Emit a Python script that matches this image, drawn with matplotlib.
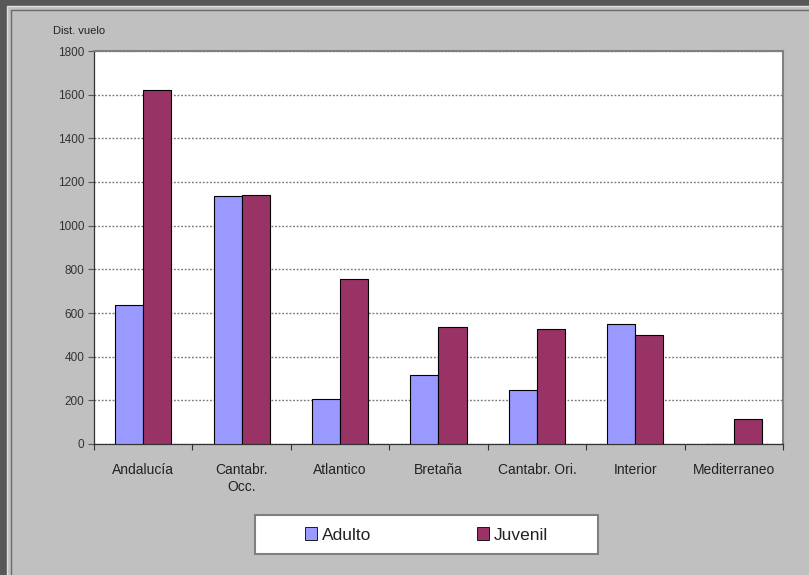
import numpy as np
import matplotlib.pyplot as plt
from matplotlib.patches import Rectangle, Patch

regiones = ['Andalucía', 'Cantabr.\nOcc.', 'Atlantico', 'Bretaña', 'Cantabr. Ori.', 'Interior', 'Mediterraneo']
adulto = [637, 1136, 206, 316, 247, 550, 0]
juvenil = [1621, 1140, 756, 536, 527, 499, 115]

plt.rcParams['font.family'] = ['Liberation Sans', 'DejaVu Sans']

W, H = 809, 575
fig = plt.figure(figsize=(W / 100, H / 100), dpi=100, facecolor='#585858')

# fondo gris del grafico
fig.patches.append(Rectangle((7 / W, 0), 1, 1 - 6 / H, transform=fig.transFigure,
                             facecolor='#c0c0c0', edgecolor='#e0e0e0', lw=1, zorder=-10))
fig.patches.append(Rectangle((11 / W, -0.01), 1, 1 - 10 / H + 0.01, transform=fig.transFigure,
                             facecolor='#c0c0c0', edgecolor='#6a6a6a', lw=1, zorder=-9))
# caja de la leyenda
fig.patches.append(Rectangle((255 / W, 1 - 554 / H), (598 - 255) / W, 39 / H, transform=fig.transFigure,
                             facecolor='white', edgecolor='#808080', lw=1.5, zorder=-5))

ax = fig.add_axes([94 / W, 1 - 444 / H, (783 - 94) / W, (444 - 51) / H])
ax.set_facecolor('white')

x = np.arange(len(regiones))
w = 0.2857
ax.bar(x - w / 2, adulto, w, color='#9999ff', edgecolor='black', lw=0.8, zorder=3, label='Adulto')
ax.bar(x + w / 2, juvenil, w, color='#993366', edgecolor='black', lw=0.8, zorder=3, label='Juvenil')

ax.set_xlim(-0.5, len(regiones) - 0.5)
ax.set_ylim(0, 1800)
ax.set_yticks(np.arange(0, 1801, 200))
ax.tick_params(axis='y', labelsize=8.5, length=4, width=0.8, color='#555555', labelcolor='#333333', pad=3)
ax.set_xticks(x)
ax.set_xticklabels(regiones, fontsize=10, color='#222222')
ax.tick_params(axis='x', length=0, pad=14)
ax.set_xticks(np.arange(-0.5, len(regiones)), minor=True)
ax.tick_params(axis='x', which='minor', length=4, width=0.8, color='#333333')
ax.grid(axis='y', linestyle=(0, (1.3, 1.3)), color='#777777', lw=1.0, zorder=1)

for s in ['top', 'right']:
    ax.spines[s].set_color('#808080')
    ax.spines[s].set_linewidth(1.5)
for s in ['left', 'bottom']:
    ax.spines[s].set_color('#333333')
    ax.spines[s].set_linewidth(0.9)

fig.text(53 / W, 1 - 31 / H, 'Dist. vuelo', fontsize=8, color='#222222', va='center')

handles = [Patch(facecolor='#9999ff', edgecolor='black', lw=0.6),
           Patch(facecolor='#993366', edgecolor='black', lw=0.6)]
leg = fig.legend(handles, ['Adulto', 'Juvenil'], loc='center',
                 bbox_to_anchor=(426.5 / W, 1 - 535 / H), ncol=2, fontsize=12.5,
                 frameon=False, handlelength=0.7, handleheight=0.7, handletextpad=0.25,
                 columnspacing=6.1, borderaxespad=0)
for t in leg.get_texts():
    t.set_color('#222222')

fig.savefig('out.png', dpi=100, facecolor=fig.get_facecolor())
